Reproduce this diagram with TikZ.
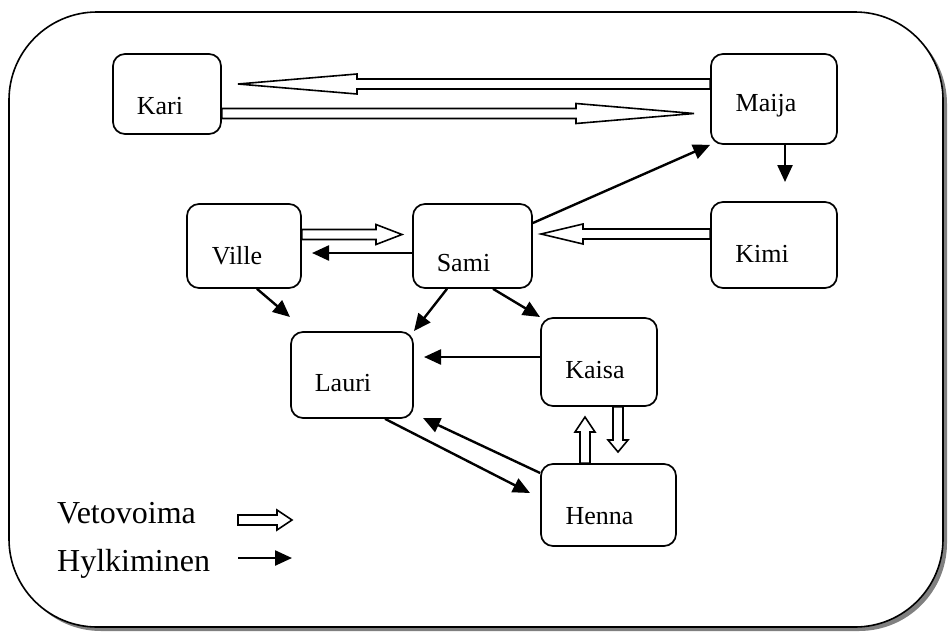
\documentclass[tikz,border=0pt]{standalone}
\usepackage{fontspec}
\setmainfont{Liberation Serif}
\usetikzlibrary{calc,arrows.meta}
\definecolor{shadowgray}{RGB}{128,128,128}
\tikzset{
  person/.style={draw, line width=1.7pt, rounded corners=12pt, inner sep=0pt},
  repel/.style={line width=2.4pt, -{Triangle[length=17pt,width=15pt]}},
  attract/.style={draw, fill=white, line width=1.6pt, line join=miter},
  nametext/.style={font=\fontsize{26}{30}\selectfont, anchor=base},
  legendtext/.style={font=\fontsize{32}{38}\selectfont, anchor=base west, inner sep=0pt},
}
% hollow block arrow: #1 tail, #2 tip, #3 head length
\newcommand\vetoarrow[3]{%
  \coordinate (va-h) at ($(#2)!#3!(#1)$);
  \draw[attract] ($(#1)!5pt!90:(#2)$) -- ($(va-h)!5pt!-90:(#1)$)
    -- ($(va-h)!10pt!-90:(#1)$) -- (#2) -- ($(va-h)!10pt!90:(#1)$)
    -- ($(va-h)!5pt!90:(#1)$) -- ($(#1)!5pt!-90:(#2)$) -- cycle;
}
\begin{document}
\begin{tikzpicture}[x=1pt, y=-1pt]
\useasboundingbox (0,0) rectangle (949,632);

% frame with drop shadow
\fill[shadowgray, rounded corners=88pt] (13,16) rectangle (947,631);
\draw[fill=white, line width=1.6pt, rounded corners=88pt] (9,12) rectangle (943,627);

% people
\node[person, minimum width=108pt, minimum height=80pt,
  label={[nametext, xshift=-7pt, yshift=-12pt]center:Kari}] (kari) at (167,94) {};
\node[person, minimum width=126pt, minimum height=90pt,
  label={[nametext, xshift=-8pt, yshift=-7pt]center:Maija}] (maija) at (774,99) {};
\node[person, minimum width=114pt, minimum height=84pt,
  label={[nametext, xshift=-7pt, yshift=-10pt]center:Ville}] (ville) at (244,246) {};
\node[person, minimum width=119pt, minimum height=84pt,
  label={[nametext, xshift=-9pt, yshift=-17pt]center:Sami}] (sami) at (472.5,246) {};
\node[person, minimum width=126pt, minimum height=86pt,
  label={[nametext, xshift=-12pt, yshift=-9pt]center:Kimi}] (kimi) at (774,245) {};
\node[person, minimum width=122pt, minimum height=86pt,
  label={[nametext, xshift=-9pt, yshift=-8pt]center:Lauri}] (lauri) at (352,375) {};
\node[person, minimum width=116pt, minimum height=88pt,
  label={[nametext, xshift=-4pt, yshift=-8pt]center:Kaisa}] (kaisa) at (599,362) {};
\node[person, minimum width=135pt, minimum height=82pt,
  label={[nametext, xshift=-9pt, yshift=-11pt]center:Henna}] (henna) at (608.5,505) {};

% arrow tips that stop short of their target
\coordinate (toKari)  at (238,84);
\coordinate (toMaija) at (694,113.5);
\coordinate (toSamiR) at (541,234);
\coordinate (toSamiL) at (402,234.5);
\coordinate (toKaisa) at (585,417);
\coordinate (toHenna) at (618,452);

% attraction (hollow arrows)
\vetoarrow{maija.west |- 0,84}{toKari}{119pt}
\vetoarrow{kari.east |- 0,113.5}{toMaija}{118pt}
\vetoarrow{kimi.west |- 0,234}{toSamiR}{42pt}
\vetoarrow{ville.east |- 0,234.5}{toSamiL}{26pt}
\vetoarrow{henna.north -| 585,0}{toKaisa}{15pt}
\vetoarrow{kaisa.south -| 618,0}{toHenna}{12pt}

% repulsion (solid arrows)
\draw[repel] (sami.east |- 0,223) -- (maija.south west);
\draw[repel] (maija.south -| 785,0) -- (785,182);
\draw[repel] (sami.west |- 0,253) -- (312,253);
\draw[repel] (ville.south -| 257,0) -- (290,317);
\draw[repel] (sami.south -| 447,0) -- (414,331);
\draw[repel] (sami.south -| 493,0) -- (540,317);
\draw[repel] (kaisa.west |- 0,357) -- (424,357);
\draw[repel] (lauri.south -| 385,0) -- (530,493);
\draw[repel] (henna.west |- 0,473) -- (423,418);

% legend
\node[legendtext] (lgA) at (57,523) {Vetovoima};
\node[legendtext] (lgR) at (57,571) {Hylkiminen};
\coordinate (lgA1) at (238,520);
\coordinate (lgA2) at (292,520);
\vetoarrow{lgA1}{lgA2}{15pt}
\coordinate (lgR1) at (238,558);
\coordinate (lgR2) at (292,558);
\draw[repel] (lgR1) -- (lgR2);
\end{tikzpicture}
\end{document}
